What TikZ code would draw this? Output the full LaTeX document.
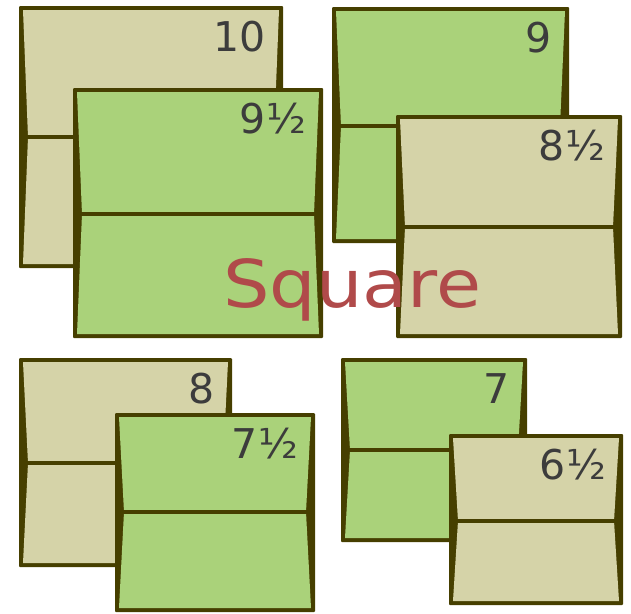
\documentclass[tikz,border=0pt]{standalone}
\usepackage{fontspec}
\setmainfont{DejaVu Sans}
\usetikzlibrary{calc}
\definecolor{tancol}{HTML}{D5D3A8}
\definecolor{leafcol}{HTML}{AAD27A}
\definecolor{edgecol}{HTML}{463F00}
\definecolor{numcol}{HTML}{3C3C3C}
\definecolor{titlecol}{HTML}{B04A4A}
\tikzset{sizelabel/.style={text=numcol,inner sep=0pt,anchor=north east,font=\fontsize{41}{41}\selectfont}}
% #1 name, #2 left, #3 top, #4 right, #5 bottom, #6 fold, #7 fill, #8 size
\newcommand{\envel}[8]{%
  \fill[edgecol,rounded corners=1pt] (#2,#3) rectangle (#4,#5);
  \fill[#7] (#2+4,#3+4) -- (#4-4,#3+4) -- (#4-9,#6) -- (#4-4,#5-4) -- (#2+4,#5-4) -- (#2+9,#6) -- cycle;
  \draw[edgecol,line width=4.5pt] (#2+8,#6) -- (#4-8,#6);
  \node[sizelabel] (#1) at (#4-17,#3+15) {#8};
}

\begin{document}
\begin{tikzpicture}[x=1pt,y=-1pt]
\useasboundingbox (0,0) rectangle (631,613);
% top row
\envel{ten}{19}{6}{283}{268}{137}{tancol}{10}
\envel{ninehalf}{73}{88}{323}{338}{214}{leafcol}{9½}
\envel{nine}{332}{7}{569}{243}{126}{leafcol}{9}
\envel{eighthalf}{396}{115}{622}{338}{227}{tancol}{8½}
\node[text=titlecol,inner sep=0pt,anchor=base west,font=\fontsize{66}{66}\selectfont] (square) at (223,307) {\scalebox{1.11}[1]{Square}};
% bottom row
\envel{eight}{19}{358}{232}{567}{463}{tancol}{8}
\envel{sevenhalf}{115}{413}{315}{612}{512}{leafcol}{7½}
\envel{seven}{341}{358}{527}{542}{450}{leafcol}{7}
\envel{sixhalf}{449}{434}{623}{605}{521}{tancol}{6½}
\end{tikzpicture}
\end{document}
